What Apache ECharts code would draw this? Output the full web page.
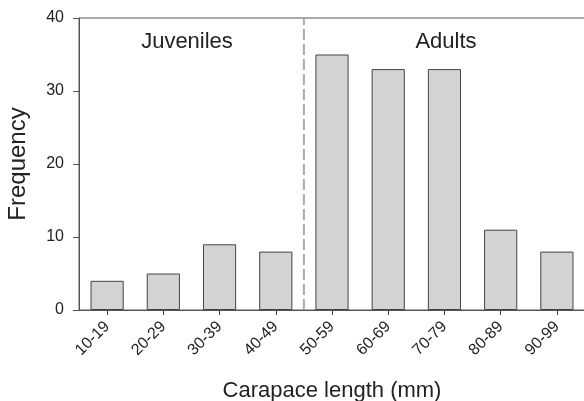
<!DOCTYPE html>
<html>
<head>
<meta charset="utf-8">
<script src="https://cdn.jsdelivr.net/npm/echarts@6/dist/echarts.min.js"></script>
<style>
html,body{margin:0;padding:0;background:#fff;}
#c{width:584px;height:401px;}
</style>
</head>
<body>
<div id="c"></div>
<script>
var categories = ['10-19','20-29','30-39','40-49','50-59','60-69','70-79','80-89','90-99'];
var frequency = [4, 5, 9, 8, 35, 33, 33, 11, 8];
var yTicks = [0, 10, 20, 30, 40];
var dividerPosition = 4; // boundary between 40-49 and 50-59
var groupLabels = ['Juveniles', 'Adults'];

var chart = echarts.init(document.getElementById('c'));
var font = 'Liberation Sans, Arial, sans-serif';
chart.setOption({
  animation: false,
  backgroundColor: '#fff',
  grid: { left: 79, top: 18, width: 506, height: 292, show: true, borderColor: '#555', borderWidth: 1, containLabel: false, outerBoundsMode: 'none' },
  xAxis: [{
    type: 'category',
    data: categories,
    axisLine: { lineStyle: { color: '#555', width: 1 } },
    axisTick: { show: true, alignWithLabel: true, length: 5, lineStyle: { color: '#444', width: 1 } },
    axisLabel: { rotate: 45, fontSize: 16, color: '#222', fontFamily: font, margin: 14 },
    name: 'Carapace length (mm)',
    nameLocation: 'middle',
    nameGap: 70,
    nameTextStyle: { fontSize: 22, color: '#222', fontFamily: font }
  }, {
    type: 'value', min: 0, max: categories.length, show: false
  }],
  yAxis: {
    type: 'value',
    min: yTicks[0], max: yTicks[yTicks.length - 1], interval: 10,
    splitLine: { show: false },
    axisLine: { show: true, lineStyle: { color: '#555', width: 1 } },
    axisTick: { show: true, length: 6, lineStyle: { color: '#555' } },
    axisLabel: { fontSize: 16, color: '#222', fontFamily: font, margin: 15 },
    name: 'Frequency',
    nameLocation: 'middle',
    nameGap: 49,
    nameTextStyle: { fontSize: 24, color: '#222', fontFamily: font }
  },
  series: [{
    type: 'bar',
    data: frequency,
    barCategoryGap: '41%',
    itemStyle: { color: '#d3d3d3', borderColor: '#444', borderWidth: 1 }
  }, {
    type: 'line',
    xAxisIndex: 1,
    data: [[dividerPosition, yTicks[0]], [dividerPosition, yTicks[yTicks.length - 1]]],
    symbol: 'none',
    lineStyle: { color: '#aaa', width: 2, type: [11, 4] },
    z: 1
  }],
  graphic: [
    { type: 'text', x: 187, y: 42, style: { text: groupLabels[0], fill: '#222', font: '22px ' + font, align: 'center', verticalAlign: 'middle', textAlign: 'center', textVerticalAlign: 'middle' } },
    { type: 'text', x: 446, y: 42, style: { text: groupLabels[1], fill: '#222', font: '22px ' + font, align: 'center', verticalAlign: 'middle', textAlign: 'center', textVerticalAlign: 'middle' } }
  ]
});
</script>
</body>
</html>
